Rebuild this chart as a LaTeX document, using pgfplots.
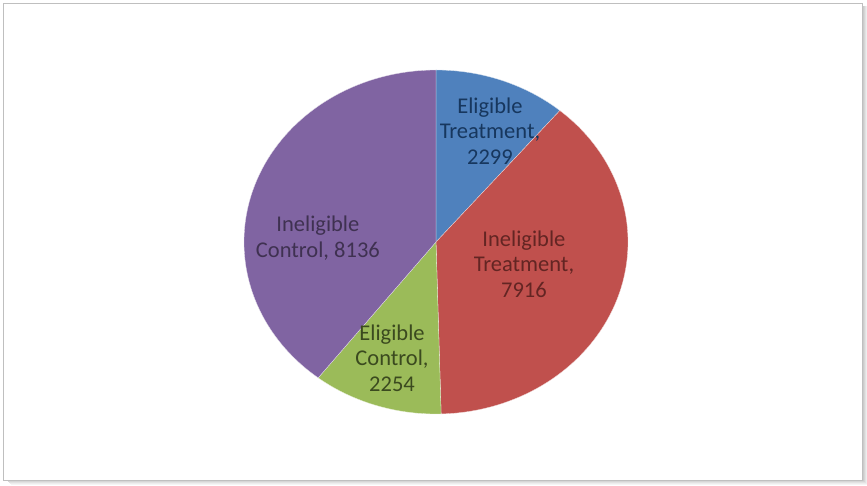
\documentclass[border=0pt]{standalone}
\usepackage{pgfplots}
\pgfplotsset{compat=1.18}
\usepackage{fontspec}
\setmainfont{Carlito}
\definecolor{pieblue}{HTML}{4F81BD}
\definecolor{piered}{HTML}{C0504D}
\definecolor{piegreen}{HTML}{9BBB59}
\definecolor{piepurple}{HTML}{8064A2}
\definecolor{lblblue}{HTML}{17375E}
\definecolor{lblred}{HTML}{632523}
\definecolor{lblgreen}{HTML}{3B4A1F}
\definecolor{lblpurple}{HTML}{3F3151}
% data values
\def\vA{2299}% Eligible Treatment
\def\vB{7916}% Ineligible Treatment
\def\vC{2254}% Eligible Control
\def\vD{8136}% Ineligible Control
\pgfmathsetmacro\tot{\vA/100+\vB/100+\vC/100+\vD/100}
\pgfmathsetmacro\aA{90}
\pgfmathsetmacro\aB{\aA-\vA/100/\tot*360}
\pgfmathsetmacro\aC{\aB-\vB/100/\tot*360}
\pgfmathsetmacro\aD{\aC-\vC/100/\tot*360}
\pgfmathsetmacro\aE{\aD-\vD/100/\tot*360}
\begin{document}
\begin{tikzpicture}[x=1pt,y=1pt]
\path[use as bounding box] (-436,-244) rectangle (431,242);
\fill[white] (-436,-244) rectangle (431,242);
% shadow of frame
\foreach \i/\o in {1/0.45,2/0.35,3/0.25,4/0.15,5/0.08}{
  \draw[black!45,opacity=\o,line width=1pt] (-430+\i,-238-\i) -- (426+\i,-238-\i) -- (426+\i,236);
}
\draw[black!25,line width=0.8pt] (-433,-238) rectangle (426,239);
\begin{axis}[
  at={(0,0)}, anchor=center,
  scale only axis, width=384pt, height=344pt,
  xmin=-1, xmax=1, ymin=-1, ymax=1,
  hide axis, clip=false,
]
\addplot[fill=pieblue, draw=white!80!pieblue, line width=0.3pt, domain=\aA:\aB, samples=60, variable=\t] ({cos(t)},{sin(t)}) -- (axis cs:0,0) -- cycle;
\addplot[fill=piered, draw=white!80!piered, line width=0.3pt, domain=\aB:\aC, samples=120, variable=\t] ({cos(t)},{sin(t)}) -- (axis cs:0,0) -- cycle;
\addplot[fill=piegreen, draw=white!80!piegreen, line width=0.3pt, domain=\aC:\aD, samples=60, variable=\t] ({cos(t)},{sin(t)}) -- (axis cs:0,0) -- cycle;
\addplot[fill=piepurple, draw=white!80!piepurple, line width=0.3pt, domain=\aD:\aE, samples=120, variable=\t] ({cos(t)},{sin(t)}) -- (axis cs:0,0) -- cycle;
\begin{scope}[every node/.style={align=center, font=\fontsize{22.5}{25.5}\selectfont}]
\node[text=lblblue] at (axis cs:0.281,0.645) {Eligible\\Treatment,\\2299};
\node[text=lblred] at (axis cs:0.458,-0.128) {Ineligible\\Treatment,\\7916};
\node[text=lblpurple] at (axis cs:-0.615,0.023) {Ineligible\\Control, 8136};
\node[text=lblgreen] at (axis cs:-0.229,-0.674) {Eligible\\Control,\\2254};
\end{scope}
\end{axis}
\end{tikzpicture}
\end{document}
